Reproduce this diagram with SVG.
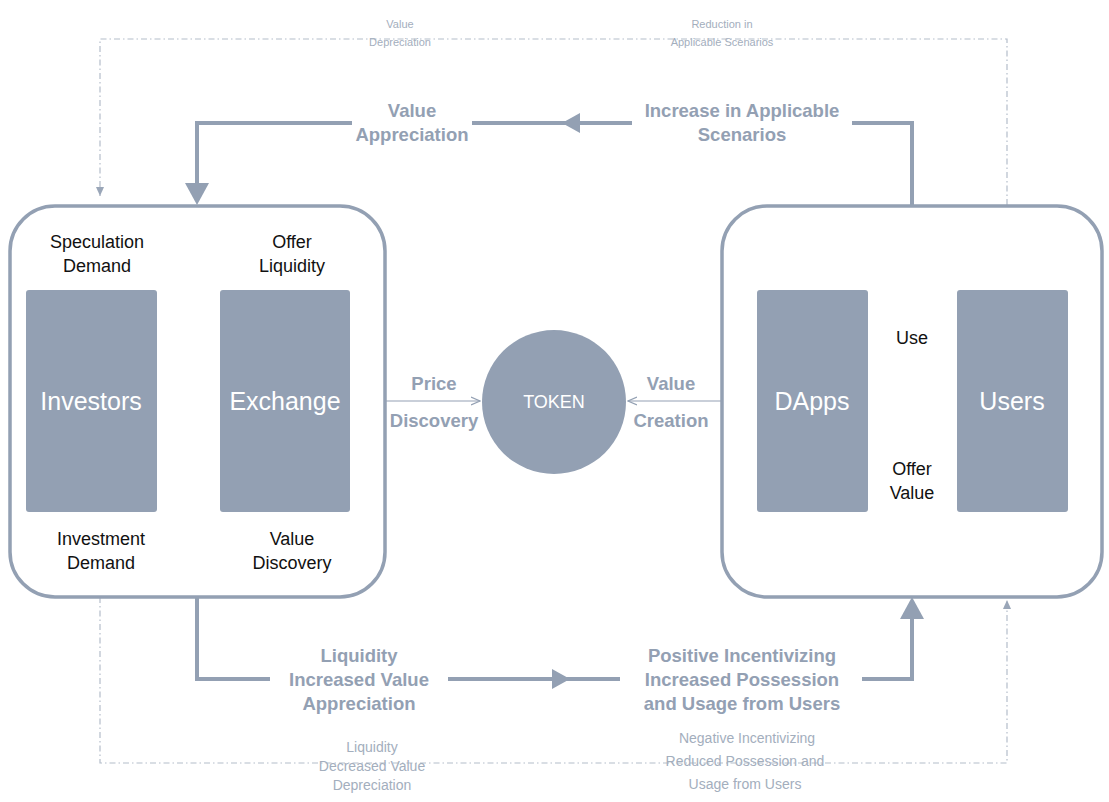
<svg xmlns="http://www.w3.org/2000/svg" width="1109" height="802" viewBox="0 0 1109 802">
<style>
text{font-family:"Helvetica Neue","Liberation Sans",Arial,sans-serif;text-anchor:middle}
.box{fill:#fff;stroke:#93a0b3;stroke-width:3.5}
.blk{fill:#93a0b3}
.big{fill:#fff;font-size:25px}
.lab{fill:#111;font-size:18px}
.bold{fill:#93a0b3;font-size:18.5px;font-weight:bold}
.sm{fill:#a3aebd;font-size:11px}
.mid{fill:#a3aebd;font-size:14px}
.thick{fill:none;stroke:#93a0b3;stroke-width:4}
.dash{fill:none;stroke:#b4bdca;stroke-width:1.2;stroke-dasharray:6 3 1.5 3}
.thin{fill:none;stroke:#93a0b3;stroke-width:1.2}
.dot{fill:none;stroke:#93a0b3;stroke-width:1.2;stroke-dasharray:4 3}
</style>
<defs>
<marker id="ah" markerWidth="10" markerHeight="10" refX="9" refY="5" orient="auto-start-reverse" markerUnits="userSpaceOnUse"><path d="M0,1 L9,5 L0,9" fill="none" stroke="#93a0b3" stroke-width="1.2"/></marker>
<marker id="dh" markerWidth="10" markerHeight="10" refX="9" refY="5" orient="auto" markerUnits="userSpaceOnUse"><path d="M0,1 L9,5 L0,9Z" fill="#9aa6b8"/></marker>
</defs>
<g id="connectors">
<path class="dash" d="M1007,205 V39 H100 V196" marker-end="url(#dh)"/>
<path class="dash" d="M100,597 V763 H1007 V600" marker-end="url(#dh)"/>
<path class="thick" d="M912,205 V123 H852 M632,123 H472 M352,123 H197 V185"/>
<path d="M185,183 L209,183 L197,205Z" class="blk"/>
<path d="M562,123 L580,113 L580,133Z" class="blk"/>
<path class="thick" d="M197,597 V679 H270 M448,679 H620 M862,679 H912 V617"/>
<path d="M900,619 L924,619 L912,597Z" class="blk"/>
<path d="M570,679 L552,669 L552,689Z" class="blk"/>
<path class="thin" d="M160,401 H217" marker-start="url(#ah)" marker-end="url(#ah)"/>
<path class="thin" d="M353,401 H480" marker-start="url(#ah)" marker-end="url(#ah)"/>
<path class="thin" d="M628,401 H754" marker-start="url(#ah)" marker-end="url(#ah)"/>
<path class="thin" d="M955,357 H871" marker-end="url(#ah)"/>
<path class="thin" d="M871,450 H955" marker-end="url(#ah)"/>
<path class="dot" d="M158,253 H234" marker-start="url(#ah)" marker-end="url(#ah)"/>
<path class="dot" d="M158,550 H234" marker-start="url(#ah)" marker-end="url(#ah)"/>
</g>
<g id="leftGroup"><rect class="box" x="10" y="206" width="375" height="391" rx="45"/></g>
<g id="rightGroup"><rect class="box" x="722" y="206" width="380" height="391" rx="45"/></g>
<g id="investors"><rect class="blk" x="26" y="290" width="131" height="222" rx="3"/><text class="big" x="91" y="410">Investors</text></g>
<g id="exchange"><rect class="blk" x="220" y="290" width="130" height="222" rx="3"/><text class="big" x="285" y="410">Exchange</text></g>
<g id="dapps"><rect class="blk" x="757" y="290" width="111" height="222" rx="3"/><text class="big" x="812" y="410">DApps</text></g>
<g id="users"><rect class="blk" x="957" y="290" width="111" height="222" rx="3"/><text class="big" x="1012" y="410">Users</text></g>
<g id="token"><circle class="blk" cx="554" cy="402" r="72"/><text x="554" y="408" style="fill:#fff;font-size:18px">TOKEN</text></g>
<g id="labels">
<text class="lab" x="97" y="248">Speculation</text><text class="lab" x="97" y="272">Demand</text>
<text class="lab" x="292" y="248">Offer</text><text class="lab" x="292" y="272">Liquidity</text>
<text class="lab" x="101" y="545">Investment</text><text class="lab" x="101" y="569">Demand</text>
<text class="lab" x="292" y="545">Value</text><text class="lab" x="292" y="569">Discovery</text>
<text class="lab" x="912" y="344">Use</text>
<text class="lab" x="912" y="475">Offer</text><text class="lab" x="912" y="499">Value</text>
<text class="bold" x="434" y="390">Price</text><text class="bold" x="434" y="427">Discovery</text>
<text class="bold" x="671" y="390">Value</text><text class="bold" x="671" y="427">Creation</text>
<text class="bold" x="412" y="117">Value</text><text class="bold" x="412" y="141">Appreciation</text>
<text class="bold" x="742" y="117">Increase in Applicable</text><text class="bold" x="742" y="141">Scenarios</text>
<text class="bold" x="359" y="662">Liquidity</text><text class="bold" x="359" y="686">Increased Value</text><text class="bold" x="359" y="710">Appreciation</text>
<text class="bold" x="742" y="662">Positive Incentivizing</text><text class="bold" x="742" y="686">Increased Possession</text><text class="bold" x="742" y="710">and Usage from Users</text>
<text class="sm" x="400" y="28">Value</text><text class="sm" x="400" y="46">Depreciation</text>
<text class="sm" x="722" y="28">Reduction in</text><text class="sm" x="722" y="46">Applicable Scenarios</text>
<text class="mid" x="372" y="752">Liquidity</text><text class="mid" x="372" y="771">Decreased Value</text><text class="mid" x="372" y="790">Depreciation</text>
<text class="mid" x="747" y="743">Negative Incentivizing</text><text class="mid" x="745" y="766">Reduced Possession and</text><text class="mid" x="745" y="789">Usage from Users</text>
</g>
</svg>
